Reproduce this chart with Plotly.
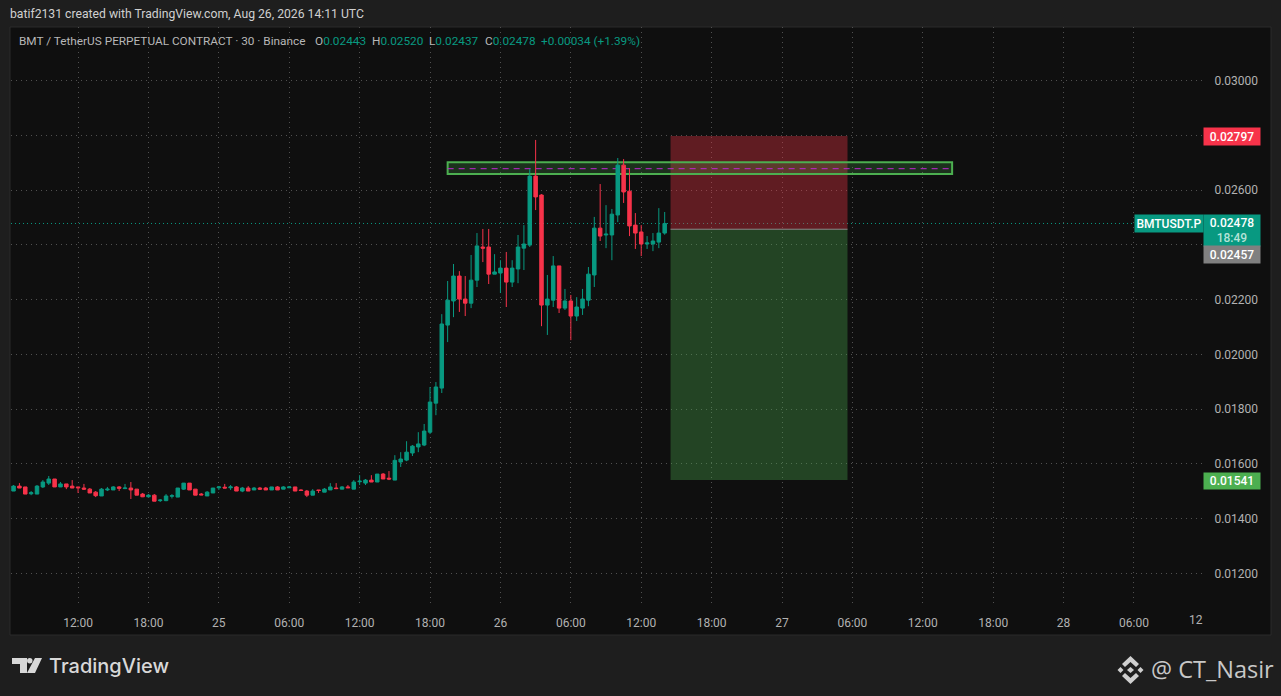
import pandas as pd
import plotly.graph_objects as go

W, H = 1281, 696

# 30 minute candles, BMTUSDT.P
start_time = "2026-08-24 06:30"
open_p = [.01501, .01519, .01516, .01491, .01490, .01516, .01530, .01545, .01516, .01527,
          .01519, .01516, .01512, .01508, .01497, .01483, .01505, .01505, .01516, .01510,
          .01512, .01508, .01490, .01480, .01486, .01466, .01466, .01482, .01479, .01508,
          .01530, .01508, .01490, .01483, .01494, .01513, .01515, .01513, .01516, .01501,
          .01512, .01505, .01512, .01512, .01505, .01516, .01508, .01513, .01516, .01505,
          .01501, .01486, .01505, .01497, .01505, .01512, .01508, .01516, .01508, .01535,
          .01530, .01541, .01534, .01563, .01548, .01541, .01607, .01614, .01640, .01662,
          .01669, .01716, .01822, .01877, .02107, .02195, .02286, .02202, .02187, .02271,
          .02392, .02392, .02293, .02297, .02315, .02264, .02312, .02388, .02399, .02651,
          .02582, .02180, .02198, .02323, .02169, .02195, .02140, .02169, .02198, .02290,
          .02461, .02436, .02436, .02509, .02691, .02596, .02472, .02447, .02403, .02403,
          .02410, .02443]
high_p = [.01523, .01530, .01516, .01501, .01523, .01541, .01556, .01545, .01534, .01527,
          .01541, .01516, .01527, .01512, .01501, .01512, .01516, .01519, .01519, .01527,
          .01534, .01508, .01494, .01490, .01490, .01472, .01490, .01490, .01512, .01530,
          .01530, .01508, .01494, .01501, .01512, .01519, .01527, .01523, .01519, .01516,
          .01519, .01516, .01516, .01516, .01516, .01519, .01519, .01519, .01516, .01508,
          .01505, .01508, .01505, .01512, .01530, .01530, .01519, .01523, .01541, .01559,
          .01545, .01559, .01563, .01567, .01574, .01632, .01643, .01683, .01669, .01716,
          .01746, .01881, .01899, .02147, .02268, .02330, .02304, .02286, .02363, .02443,
          .02458, .02458, .02366, .02344, .02374, .02344, .02436, .02472, .02677, .02783,
          .02585, .02290, .02359, .02323, .02239, .02217, .02209, .02239, .02319, .02502,
          .02622, .02545, .02531, .02717, .02713, .02680, .02516, .02472, .02432, .02443,
          .02534, .02520]
low_p = [.01501, .01512, .01490, .01486, .01490, .01512, .01523, .01516, .01516, .01508,
         .01512, .01494, .01505, .01494, .01479, .01483, .01501, .01505, .01501, .01508,
         .01472, .01486, .01479, .01479, .01464, .01461, .01464, .01474, .01479, .01505,
         .01505, .01486, .01486, .01483, .01494, .01505, .01512, .01505, .01501, .01497,
         .01501, .01505, .01505, .01505, .01505, .01505, .01508, .01512, .01501, .01501,
         .01479, .01486, .01494, .01497, .01505, .01508, .01508, .01512, .01508, .01523,
         .01523, .01534, .01534, .01545, .01541, .01541, .01589, .01610, .01629, .01643,
         .01665, .01709, .01778, .01859, .02045, .02136, .02155, .02140, .02169, .02246,
         .02337, .02257, .02293, .02224, .02173, .02246, .02260, .02308, .02392, .02527,
         .02103, .02071, .02173, .02151, .02162, .02052, .02122, .02144, .02176, .02246,
         .02414, .02388, .02344, .02483, .02553, .02432, .02385, .02359, .02385, .02377,
         .02388, .02437]
close_p = [.01519, .01512, .01490, .01495, .01519, .01534, .01545, .01516, .01527, .01516,
           .01512, .01513, .01508, .01494, .01484, .01508, .01508, .01516, .01511, .01512,
           .01505, .01486, .01480, .01486, .01464, .01468, .01483, .01484, .01512, .01530,
           .01505, .01486, .01487, .01497, .01512, .01516, .01512, .01516, .01501, .01512,
           .01501, .01512, .01508, .01505, .01516, .01505, .01516, .01516, .01501, .01503,
           .01486, .01501, .01503, .01508, .01516, .01510, .01516, .01513, .01534, .01537,
           .01541, .01534, .01563, .01545, .01545, .01613, .01618, .01643, .01665, .01673,
           .01720, .01826, .01881, .02111, .02198, .02286, .02202, .02187, .02271, .02396,
           .02388, .02293, .02301, .02315, .02264, .02315, .02392, .02403, .02651, .02575,
           .02180, .02202, .02323, .02169, .02195, .02140, .02173, .02202, .02293, .02461,
           .02432, .02439, .02512, .02691, .02593, .02469, .02443, .02403, .02407, .02414,
           .02443, .02478]

# axis labels, 0.02400 and 0.02800 sit under the price tags
y_ticks = [.012, .014, .016, .018, .020, .022, .024, .026, .028, .030]
y_labels = ["0.01200", "0.01400", "0.01600", "0.01800", "0.02000",
            "0.02200", "", "0.02600", "", "0.03000"]
x_ticks = ["2026-08-24 12:00", "2026-08-24 18:00", "2026-08-25 00:00", "2026-08-25 06:00",
           "2026-08-25 12:00", "2026-08-25 18:00", "2026-08-26 00:00", "2026-08-26 06:00",
           "2026-08-26 12:00", "2026-08-26 18:00", "2026-08-27 00:00", "2026-08-27 06:00",
           "2026-08-27 12:00", "2026-08-27 18:00", "2026-08-28 00:00", "2026-08-28 06:00"]
x_labels = ["12:00", "18:00", "25", "06:00", "12:00", "18:00", "26", "06:00",
            "12:00", "18:00", "27", "06:00", "12:00", "18:00", "28", "06:00"]

# short position and zone drawn on the chart
stop_price = 0.02797
entry_price = 0.02457
target_price = 0.01541
last_price = 0.02478
pos_start, pos_end = "2026-08-26 14:30", "2026-08-27 05:35"
zone_start, zone_end = "2026-08-25 19:30", "2026-08-27 14:30"
zone_top, zone_mid, zone_bottom = 0.02702, 0.02678, 0.02659

UP = "#089981"
DOWN = "#f7334a"
BG = "#1e1e1e"
PANE = "#0f0f0f"
TXT = "#b2b2b2"
FONT = "Roboto"

# plot area in pixels
LEFT, RIGHT, TOP, BOTTOM = 11, 1203, 27, 606


def px(x):
    return x / W


def py(y):
    return 1 - y / H


def path(points):
    return "M" + " L".join(f"{px(x):.5f},{py(y):.5f}" for x, y in points) + " Z"


times = pd.date_range(start_time, periods=len(open_p), freq="30min")

fig = go.Figure()
fig.add_trace(go.Candlestick(
    x=times, open=open_p, high=high_p, low=low_p, close=close_p,
    increasing=dict(line=dict(color=UP, width=1), fillcolor=UP),
    decreasing=dict(line=dict(color=DOWN, width=1), fillcolor=DOWN),
    whiskerwidth=0, showlegend=False,
))

shapes = [
    # outer pane
    dict(type="rect", xref="paper", yref="paper", x0=px(10), x1=px(1271), y0=py(635), y1=py(27),
         fillcolor=PANE, line=dict(color="#2a2a2a", width=1), layer="below"),
    # position boxes
    dict(type="rect", xref="x", yref="y", x0=pos_start, x1=pos_end, y0=entry_price, y1=stop_price,
         fillcolor="rgba(242,54,69,0.36)", line=dict(width=0), layer="between"),
    dict(type="rect", xref="x", yref="y", x0=pos_start, x1=pos_end, y0=target_price, y1=entry_price,
         fillcolor="rgba(76,175,80,0.33)", line=dict(width=0), layer="between"),
    dict(type="line", xref="x", yref="y", x0=pos_start, x1=pos_end, y0=entry_price, y1=entry_price,
         line=dict(color="#8a8a8a", width=1), layer="between"),
    # zone
    dict(type="rect", xref="x", yref="y", x0=zone_start, x1=zone_end, y0=zone_bottom, y1=zone_top,
         fillcolor="rgba(76,175,80,0.22)", line=dict(color="#4caf50", width=2), layer="between"),
    dict(type="line", xref="x", yref="y", x0=zone_start, x1=zone_end, y0=zone_mid, y1=zone_mid,
         line=dict(color="#c026d3", width=1, dash="6px,5px"), layer="between"),
    # last price line
    dict(type="line", xref="paper", yref="y", x0=px(LEFT), x1=px(RIGHT), y0=last_price, y1=last_price,
         line=dict(color=UP, width=1, dash="1px,3px"), layer="between"),
    # TradingView logo
    dict(type="path", xref="paper", yref="paper", fillcolor="#d8d8d8", line=dict(width=0),
         path=path([(12, 658), (27, 658), (27, 673), (20, 673), (20, 664), (12, 664)])),
    dict(type="path", xref="paper", yref="paper", fillcolor="#d8d8d8", line=dict(width=0),
         path=path([(35, 658), (42, 658), (35, 673), (27, 673)])),
    dict(type="circle", xref="paper", yref="paper", fillcolor="#d8d8d8", line=dict(width=0),
         x0=px(27), x1=px(32.5), y0=py(663.5), y1=py(658)),
]

# binance icon
icon = [
    [(1130.5, 667), (1134, 670), (1130.5, 673), (1127, 670)],
    [(1120.5, 667), (1123.5, 670), (1120.5, 673), (1117.5, 670)],
    [(1140.5, 667), (1143.5, 670), (1140.5, 673), (1137.5, 670)],
    [(1130.5, 656), (1139, 664), (1136, 667), (1130.5, 662), (1125, 667), (1122, 664)],
    [(1130.5, 684), (1139, 676), (1136, 673), (1130.5, 678), (1125, 673), (1122, 676)],
]
for pts in icon:
    shapes.append(dict(type="path", xref="paper", yref="paper", fillcolor="#cfcfcf",
                       line=dict(width=0), path=path(pts)))


def text(x, y, s, size=12, color=TXT, anchor="left", family=FONT, weight="normal"):
    return dict(xref="paper", yref="paper", x=px(x), y=py(y), text=s, showarrow=False,
                xanchor=anchor, yanchor="middle", align=anchor, borderpad=0,
                font=dict(size=size, color=color, family=family, weight=weight))


def price_label(x0, x1, y0, y1, s, color):
    return dict(xref="paper", yref="paper", x=px((x0 + x1) / 2), y=py((y0 + y1) / 2), text=s,
                showarrow=False, xanchor="center", yanchor="middle", width=x1 - x0, height=y1 - y0,
                bgcolor=color, borderpad=0, align="center", valign="middle",
                font=dict(size=12, color="#ffffff", family=FONT, weight=500))


def g(s):
    return f'<span style="color:{UP}">{s}</span>'


annotations = [
    text(9, 14, "batif2131 created with TradingView.com, Aug 26, 2026 14:11 UTC", size=12.2, color="#d0d0d0"),
    text(18, 41, "BMT / TetherUS PERPETUAL CONTRACT · 30 · Binance", size=11.8, color="#b8b8b8"),
    text(314, 41, "O" + g("0.02443"), size=11.8, color="#b8b8b8"),
    text(371, 41, "H" + g("0.02520"), size=11.8, color="#b8b8b8"),
    text(428, 41, "L" + g("0.02437"), size=11.8, color="#b8b8b8"),
    text(484, 41, "C" + g("0.02478"), size=11.8, color="#b8b8b8"),
    text(540, 41, g("+0.00034 (+1.39%)"), size=11.8, color="#b8b8b8"),
    text(1196, 620, "12", anchor="center"),
    price_label(1204, 1260, 128, 145, "0.02797", "#f7334a"),
    price_label(1135, 1203, 215, 232, "BMTUSDT.P", UP),
    price_label(1204, 1260, 215, 246,
                '0.02478<br><span style="color:#b5e3d8">18:49</span>', UP),
    price_label(1204, 1260, 246, 263, "0.02457", "#808080"),
    price_label(1204, 1260, 473, 489, "0.01541", "#4caf50"),
    text(48, 666, "TradingView", size=20, color="#d8d8d8", family="Inter", weight=500),
    text(1150, 669, "@ CT_Nasir", size=23.5, color="#c8c8c8", family="Open Sans"),
]

fig.update_layout(
    width=W, height=H, autosize=False,
    margin=dict(l=0, r=0, t=0, b=0),
    paper_bgcolor=BG, plot_bgcolor="rgba(0,0,0,0)",
    font=dict(family=FONT, size=12, color=TXT),
    showlegend=False, boxgap=0.15,
    shapes=shapes, annotations=annotations,
    xaxis=dict(
        domain=[px(LEFT), px(RIGHT)], type="date",
        range=["2026-08-24 06:17", "2026-08-28 11:53"],
        rangeslider=dict(visible=False),
        tickmode="array", tickvals=x_ticks, ticktext=x_labels,
        showgrid=True, gridcolor="#505050", griddash="1px,4px", gridwidth=1,
        ticks="outside", ticklen=6, tickcolor="rgba(0,0,0,0)",
        showline=False, zeroline=False, tickfont=dict(size=12, color=TXT),
    ),
    yaxis=dict(
        domain=[py(BOTTOM), py(TOP)], side="right",
        range=[0.010813, 0.031954],
        tickmode="array", tickvals=y_ticks, ticktext=y_labels,
        showgrid=True, gridcolor="#505050", griddash="1px,4px", gridwidth=1,
        ticks="outside", ticklen=8, tickcolor="rgba(0,0,0,0)",
        showline=False, zeroline=False, tickfont=dict(size=12, color=TXT),
    ),
)

fig.write_html("out.html", config=dict(displayModeBar=False),
               post_script="document.body.style.margin='0';document.body.style.overflow='hidden';")
